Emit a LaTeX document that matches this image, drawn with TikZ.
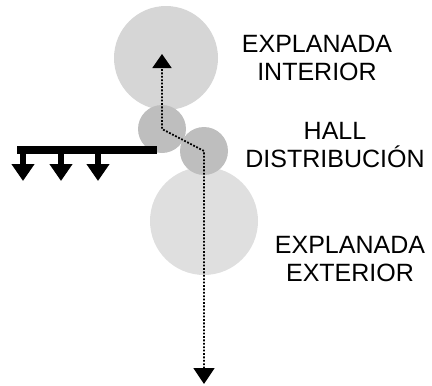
\documentclass[tikz,border=0pt]{standalone}
\usepackage{fontspec}
\setmainfont{Liberation Sans}
\usepackage{tikz}
\usetikzlibrary{positioning, arrows.meta}
\definecolor{zonegray}{HTML}{D6D6D6}
\definecolor{zonegraylight}{HTML}{DFDFDF}
\definecolor{hallgray}{HTML}{BEBEBE}
\tikzset{
	zonenode/.style={
			circle,
			draw=none,
			fill=zonegray,
			inner sep=0pt
		},
	hallnode/.style={
			zonenode,
			fill=hallgray
		},
	labelnode/.style={
			align=center,
			inner sep=0pt,
			font=\fontsize{25}{28}\selectfont
		},
	flowline/.style={
			line width=1.8pt,
			dash pattern=on 1.8pt off 1.6pt,
			{Triangle[width=21pt,length=16pt]}-{Triangle[width=19pt,length=14pt]}
		},
	wallline/.style={
			line width=8pt
		},
	exitarrow/.style={
			line width=6pt,
			-{Triangle[width=22pt,length=17pt]}
		}
}

\begin{document}
\begin{tikzpicture}[x=1pt, y=-1pt]
\useasboundingbox (0,0) rectangle (432,386);
    \node[zonenode, minimum size=104pt] (inner) at (166,58)  {};
    \node[zonenode, fill=zonegraylight, minimum size=108pt] (outer) at (204,221)  {};
    \node[hallnode, minimum size=48pt] (hall1) at (162,129)  {};
    \node[hallnode, minimum size=48pt] (hall2) at (204,151)  {};

    \node[labelnode] (lbinner) at (317,58)  {EXPLANADA\\INTERIOR};
    \node[labelnode] (lbhall) at (335,145)  {HALL\\DISTRIBUCIÓN};
    \node[labelnode] (lbouter) at (350,259)  {EXPLANADA\\EXTERIOR};

    \coordinate (up) at (162,54);
    \coordinate (down) at (204,384);
    \draw[flowline] (down) -- (hall2.center) -- (hall1.center) -- (up);

    \coordinate (wallL) at (17,150);
    \coordinate (wallR) at (157,150);
    \draw[wallline] (wallL) -- (wallR);
    \foreach \x in {23,61,98}
        \draw[exitarrow] (\x,150) -- (\x,181);

\end{tikzpicture}
\end{document}
